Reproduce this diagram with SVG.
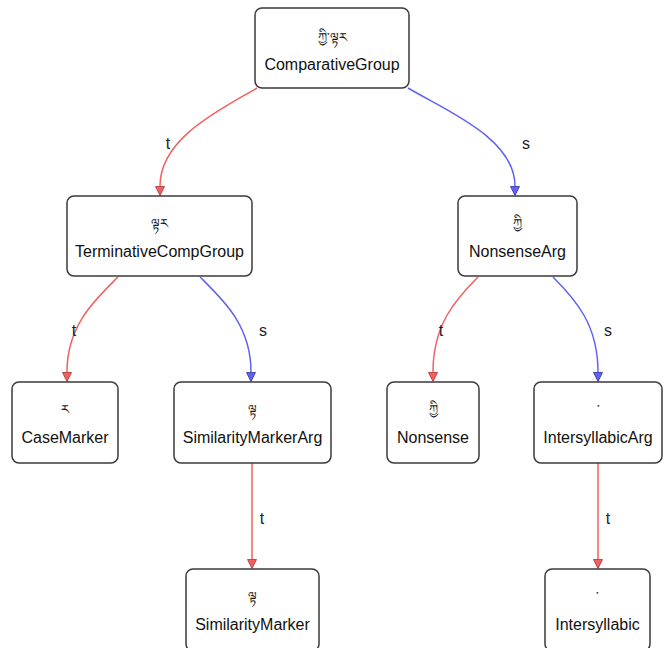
<svg xmlns="http://www.w3.org/2000/svg" width="670" height="648" viewBox="0 0 670 648">
<style>
.box{fill:#fff;stroke:#3a3a3a;stroke-width:1.5}
.lbl{font-family:"Liberation Sans",Arial,sans-serif;font-size:16px;fill:#111;text-anchor:middle}
.tib{font-family:"Noto Sans","DejaVu Sans",sans-serif;font-size:13px;fill:#111;text-anchor:middle}
.el{font-family:"Liberation Sans",Arial,sans-serif;font-size:16px;fill:#222;text-anchor:middle}
.t{fill:none;stroke:#f06060;stroke-width:1.5}
.s{fill:none;stroke:#6262f2;stroke-width:1.5}
</style>
<defs>
<marker id="at" markerUnits="userSpaceOnUse" viewBox="0 0 10 10" refX="0" refY="5" markerWidth="10" markerHeight="10" orient="auto">
<path d="M0.5,0.5 L9.5,5 L0.5,9.5 Z" fill="#f06060" stroke="#b03030" stroke-width="0.8"/>
</marker>
<marker id="as" markerUnits="userSpaceOnUse" viewBox="0 0 10 10" refX="0" refY="5" markerWidth="10" markerHeight="10" orient="auto">
<path d="M0.5,0.5 L9.5,5 L0.5,9.5 Z" fill="#6262f2" stroke="#3030a0" stroke-width="0.8"/>
</marker>
</defs>
<g id="edges">
<path class="t" d="M257,88 C220,110 160,138 160,186" marker-end="url(#at)"/>
<path class="s" d="M408,88 C445,110 515,138 515,186" marker-end="url(#as)"/>
<path class="t" d="M118,277 C95,300 67,325 67,372" marker-end="url(#at)"/>
<path class="s" d="M200,277 C223,300 251,325 251,372" marker-end="url(#as)"/>
<path class="t" d="M478,277 C455,300 433,325 433,372" marker-end="url(#at)"/>
<path class="s" d="M553,277 C576,300 598,325 598,372" marker-end="url(#as)"/>
<path class="t" d="M252,463 L252,559" marker-end="url(#at)"/>
<path class="t" d="M598,463 L598,559" marker-end="url(#at)"/>
<text class="el" x="168" y="149">t</text>
<text class="el" x="526" y="149">s</text>
<text class="el" x="74" y="336">t</text>
<text class="el" x="263" y="336">s</text>
<text class="el" x="441" y="336">t</text>
<text class="el" x="608" y="336">s</text>
<text class="el" x="262" y="524">t</text>
<text class="el" x="608" y="524">t</text>
</g>
<g id="n-ComparativeGroup">
<rect class="box" x="255" y="8" width="154" height="80" rx="7"/>
<text class="tib" x="332" y="42">ཀྱི་ལྟར</text>
<text class="lbl" x="332" y="70">ComparativeGroup</text>
</g>
<g id="n-TerminativeCompGroup">
<rect class="box" x="67" y="196" width="185" height="80" rx="7"/>
<text class="tib" x="159.5" y="228">ལྟར</text>
<text class="lbl" x="159.5" y="257">TerminativeCompGroup</text>
</g>
<g id="n-NonsenseArg">
<rect class="box" x="458" y="196" width="119" height="80" rx="7"/>
<text class="tib" x="517.5" y="228">ཀྱི</text>
<text class="lbl" x="517.5" y="257">NonsenseArg</text>
</g>
<g id="n-CaseMarker">
<rect class="box" x="12" y="382" width="106" height="81" rx="7"/>
<text class="tib" x="65" y="414">ར</text>
<text class="lbl" x="65" y="443">CaseMarker</text>
</g>
<g id="n-SimilarityMarkerArg">
<rect class="box" x="174" y="382" width="157" height="81" rx="7"/>
<text class="tib" x="252.5" y="414">ལྟ</text>
<text class="lbl" x="252.5" y="443">SimilarityMarkerArg</text>
</g>
<g id="n-Nonsense">
<rect class="box" x="387" y="382" width="92" height="81" rx="7"/>
<text class="tib" x="433" y="414">ཀྱི</text>
<text class="lbl" x="433" y="443">Nonsense</text>
</g>
<g id="n-IntersyllabicArg">
<rect class="box" x="534" y="382" width="128" height="81" rx="7"/>
<text class="tib" x="598" y="414">་</text>
<text class="lbl" x="598" y="443">IntersyllabicArg</text>
</g>
<g id="n-SimilarityMarker">
<rect class="box" x="186" y="569" width="133" height="82" rx="7"/>
<text class="tib" x="252.5" y="601">ལྟ</text>
<text class="lbl" x="252.5" y="630">SimilarityMarker</text>
</g>
<g id="n-Intersyllabic">
<rect class="box" x="545" y="569" width="105" height="82" rx="7"/>
<text class="tib" x="597.5" y="601">་</text>
<text class="lbl" x="597.5" y="630">Intersyllabic</text>
</g>
</svg>
